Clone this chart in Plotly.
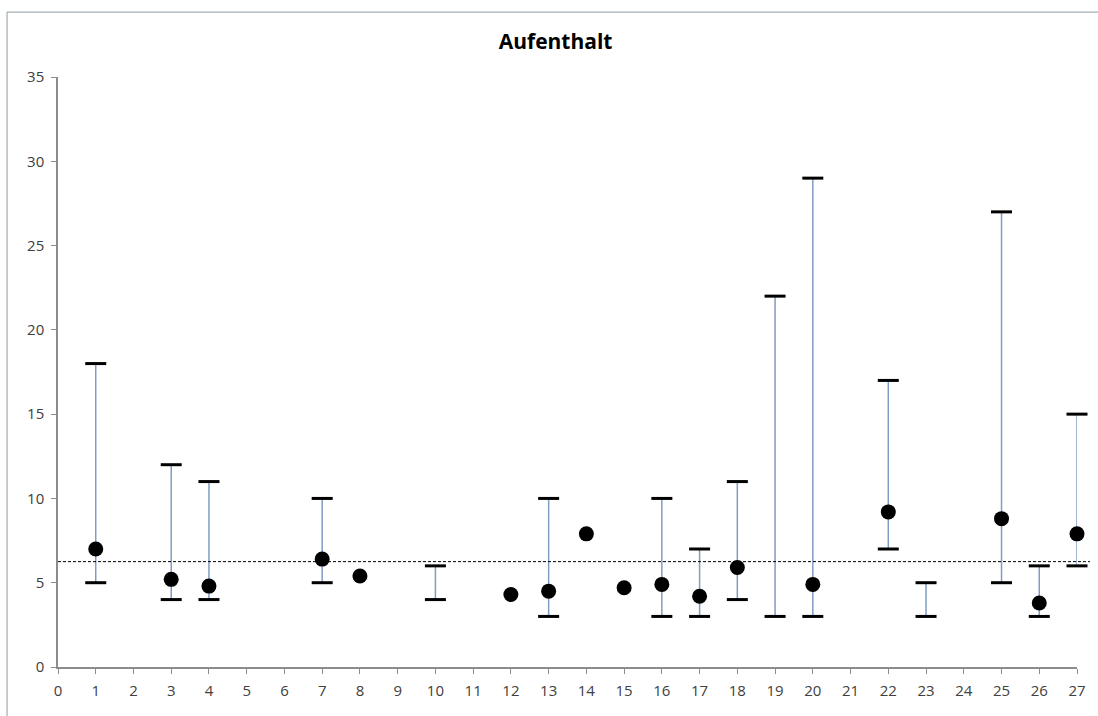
import plotly.graph_objects as go

# Mean stay per item (black dots)
mean_x = [1, 3, 4, 7, 8, 12, 13, 14, 15, 16, 17, 18, 20, 22, 25, 26, 27]
mean_y = [7.0, 5.2, 4.8, 6.4, 5.4, 4.3, 4.5, 7.9, 4.7, 4.9, 4.2, 5.9, 4.9, 9.2, 8.8, 3.8, 7.9]

# Min / max range per item
range_x = [1, 3, 4, 7, 10, 13, 16, 17, 18, 19, 20, 22, 23, 25, 26, 27]
range_min = [5, 4, 4, 5, 4, 3, 3, 3, 4, 3, 3, 7, 3, 5, 3, 6]
range_max = [18, 12, 11, 10, 6, 10, 10, 7, 11, 22, 29, 17, 5, 27, 6, 15]

# Overall reference level (dotted line)
reference_level = 6.25

x_ticks = list(range(0, 28))
y_ticks = [0, 5, 10, 15, 20, 25, 30, 35]

# Vertical connectors from min to max, separated by None
seg_x, seg_y = [], []
for xv, lo, hi in zip(range_x, range_min, range_max):
    seg_x += [xv, xv, None]
    seg_y += [lo, hi, None]

fig = go.Figure()

fig.add_trace(go.Scatter(
    x=seg_x, y=seg_y, mode="lines",
    line=dict(color="#7f9cc2", width=1.5),
    hoverinfo="skip", showlegend=False, cliponaxis=False,
))

fig.add_trace(go.Scatter(
    x=range_x + range_x, y=range_min + range_max, mode="markers",
    marker=dict(symbol="line-ew", size=15, line=dict(color="black", width=3)),
    showlegend=False, cliponaxis=False,
))

fig.add_trace(go.Scatter(
    x=mean_x, y=mean_y, mode="markers",
    marker=dict(symbol="circle", size=15, color="black"),
    showlegend=False, cliponaxis=False,
))

# Dotted reference line, running slightly past the last category
fig.add_shape(type="line", xref="paper", yref="y",
              x0=0, x1=1.0127, y0=reference_level, y1=reference_level,
              line=dict(color="black", width=1, dash="3px,2px"))

# Chart frame
fig.add_shape(type="rect", xref="paper", yref="paper",
              x0=-0.05, x1=1.03, y0=-0.1, y1=1.110,
              line=dict(color="#8c9ca2", width=1), fillcolor="rgba(0,0,0,0)",
              layer="below")

tick_font = dict(family="Open Sans", size=15, color="#404040")

fig.update_layout(
    width=1098, height=716,
    margin=dict(l=58, r=19, t=77, b=49),
    paper_bgcolor="white", plot_bgcolor="white",
    title=dict(text="<b>Aufenthalt</b>", x=0.506, xref="container", xanchor="center",
               y=1 - 42 / 716, yanchor="middle",
               font=dict(family="Open Sans", size=21, color="black")),
    font=tick_font,
    showlegend=False,
)

fig.update_xaxes(
    range=[0, 27], tickmode="array", tickvals=x_ticks,
    ticktext=[str(t) for t in x_ticks], tickfont=tick_font,
    showgrid=False, zeroline=False,
    showline=True, linecolor="#8c8c8c", linewidth=1.5,
    ticks="outside", ticklen=5, tickcolor="#8c8c8c", tickwidth=1,
    ticklabelstandoff=4,
)
fig.update_yaxes(
    range=[0, 35], tickmode="array", tickvals=y_ticks, tickfont=tick_font,
    showgrid=False, zeroline=False,
    showline=True, linecolor="#8c8c8c", linewidth=1.5,
    ticks="outside", ticklen=5, tickcolor="#8c8c8c", tickwidth=1,
    ticklabelstandoff=4,
)

fig.write_html("out.html")
